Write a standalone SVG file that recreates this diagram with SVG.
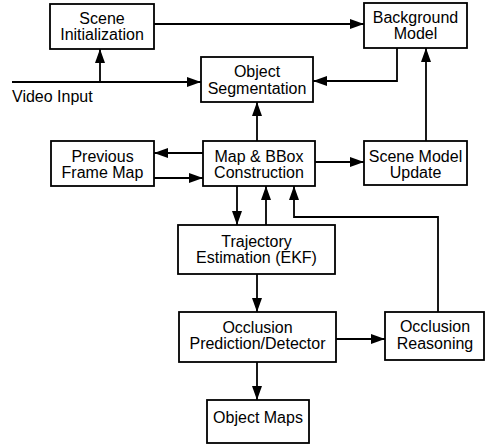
<svg xmlns="http://www.w3.org/2000/svg" width="485" height="444" viewBox="0 0 485 444">
<style>
rect{fill:#fff;stroke:#000;stroke-width:1.8}
text{font-family:"Liberation Sans",Arial,sans-serif;font-size:16px;fill:#000;text-anchor:middle}
.c path{fill:none;stroke:#000;stroke-width:1.8;marker-end:url(#a)}
.c path.n{marker-end:none}
</style>
<defs>
<marker id="a" markerUnits="userSpaceOnUse" markerWidth="14" markerHeight="10" refX="14" refY="5" orient="auto"><path d="M0,0 L14,5 L0,10 z" fill="#000"/></marker>
</defs>
<rect x="0" y="0" width="485" height="444" style="stroke:none"/>
<g class="c">
<path d="M154,24 H364"/>
<path d="M12,82 H201"/>
<path d="M100,82 V49"/>
<path d="M397,48 V81 H313"/>
<path d="M257,141 V102"/>
<path d="M203,153 H154"/>
<path d="M154,178 H203"/>
<path d="M315,162 H364"/>
<path d="M426,141 V48"/>
<path d="M237,186 V225"/>
<path d="M266,225 V186"/>
<path d="M438,312 V217 H294 V186"/>
<path d="M257,274 V312"/>
<path d="M336,339 H385"/>
<path d="M257,362 V400"/>
</g>
<g id="scene-init"><rect x="50" y="4" width="104" height="45"/><text x="102" y="23.5">Scene</text><text x="102" y="40">Initialization</text></g>
<g id="background-model"><rect x="364" y="3" width="103" height="45"/><text x="415.5" y="22.5">Background</text><text x="415.5" y="39">Model</text></g>
<g id="object-segmentation"><rect x="201" y="57" width="112" height="45"/><text x="257" y="77.3">Object</text><text x="257" y="94">Segmentation</text></g>
<g id="video-input"><text x="12" y="102.3" style="text-anchor:start">Video Input</text></g>
<g id="previous-frame-map"><rect x="51" y="141" width="103" height="45"/><text x="102.5" y="161.5">Previous</text><text x="102.5" y="178">Frame Map</text></g>
<g id="map-bbox"><rect x="203" y="141" width="112" height="45"/><text x="259" y="161.5">Map &amp; BBox</text><text x="259" y="178">Construction</text></g>
<g id="scene-model-update"><rect x="364" y="141" width="103" height="44"/><text x="415.5" y="161.5">Scene Model</text><text x="415.5" y="178">Update</text></g>
<g id="trajectory"><rect x="178" y="225" width="157" height="49"/><text x="256.5" y="246.7">Trajectory</text><text x="256.5" y="263.3">Estimation (EKF)</text></g>
<g id="occlusion-prediction"><rect x="179" y="312" width="157" height="50"/><text x="257.5" y="332.7">Occlusion</text><text x="257.5" y="349">Prediction/Detector</text></g>
<g id="occlusion-reasoning"><rect x="385" y="312" width="99" height="48"/><text x="435" y="332.3">Occlusion</text><text x="435" y="348.5">Reasoning</text></g>
<g id="object-maps"><rect x="207" y="400" width="102" height="43"/><text x="258" y="423">Object Maps</text></g>
</svg>
